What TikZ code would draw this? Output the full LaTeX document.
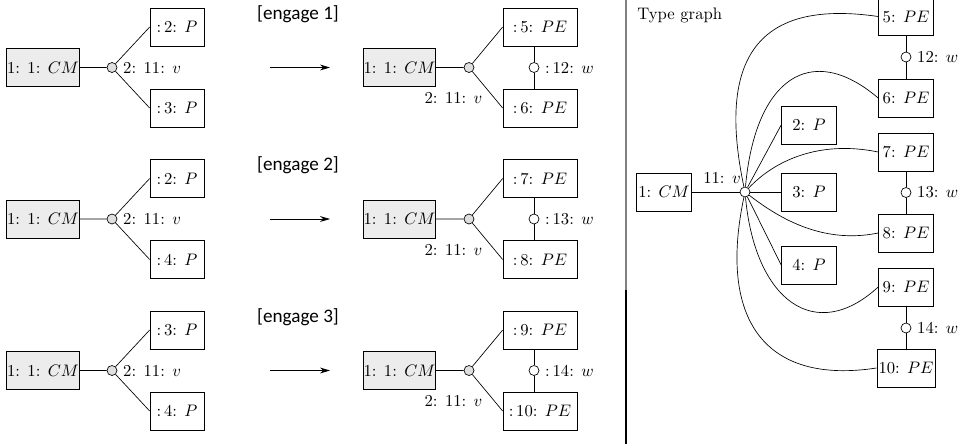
\documentclass[tikz,border=0pt]{standalone}
\usepackage{fontspec}
\newfontfamily\engfont{Carlito}
\usetikzlibrary{arrows.meta, positioning}

\tikzset{
  obj/.style={draw, minimum height=22.8pt, inner sep=1pt},
  cmbox/.style={obj, fill=gray!15, minimum width=39.6pt, inner sep=0.2pt},
  pbox/.style={obj, minimum width=32.4pt},
  pebox/.style={obj, minimum width=44.4pt},
  tbox/.style={obj, minimum width=33pt},
  linkdot/.style={circle, draw, fill=white, inner sep=0pt, minimum size=6pt},
  rulearrow/.style={-{Stealth[length=6pt, width=3.5pt]}},
  rulename/.style={font=\engfont\fontsize{11.5}{14}\selectfont},
}

\begin{document}
\begin{tikzpicture}[x=0.6pt, y=-0.6pt]
    \useasboundingbox (0,0) rectangle (961,444);
    % the three rule applications
    \foreach \r/\pa/\pb/\ea/\eb/\w in {0/2/3/5/6/12, 1/2/4/7/8/13, 2/3/4/9/10/14}{
        \begin{scope}[shift={(0,151.5*\r)}]
            \pgfmathtruncatemacro{\n}{\r+1}
            \node[cmbox] (cmL\r) at (43,67.5) {1: 1: $CM$};
            \node[linkdot, fill=gray!25] (vL\r) at (112,67.5) {};
            \node[pbox] (pA\r) at (177,27) {{:}\,\pa: $P$};
            \node[pbox] (pB\r) at (177,108) {{:}\,\pb: $P$};
            \draw (cmL\r) -- (vL\r) -- (pA\r.west);
            \draw (vL\r) -- (pB\r.west);
            \node[right=0pt of vL\r] (lL\r) {2: 11: $v$};
            \coordinate (aS\r) at (270,67.5);
            \coordinate (aE\r) at (330,67.5);
            \draw[rulearrow] (aS\r) -- (aE\r);
            \node[rulename] (rule\r) at (298,14) {[engage \n]};
            \node[cmbox] (cmR\r) at (399.5,67.5) {1: 1: $CM$};
            \node[linkdot, fill=gray!25] (vR\r) at (469,67.5) {};
            \node[pebox] (eA\r) at (540,27) {{:}\,\ea: $PE$};
            \node[pebox] (eB\r) at (540,108) {{:}\,\eb: $PE$};
            \node[linkdot] (wR\r) at (534,67.5) {};
            \draw (cmR\r) -- (vR\r) -- (eA\r.west);
            \draw (vR\r) -- (eB\r.west);
            \draw (wR\r) -- (wR\r |- eA\r.south);
            \draw (wR\r) -- (wR\r |- eB\r.north);
            \node[right=0pt of wR\r] (lw\r) {{:}\,\w: $w$};
            \node (lR\r) at ([shift={(-15.5,30.5)}]vR\r) {2: 11: $v$};
        \end{scope}
    }
    % separator
    \coordinate (sepTop) at (626,0);
    \coordinate (sepMid) at (626,290);
    \coordinate (sepBot) at (626,444);
    \draw[gray, line width=1pt] (sepTop) -- (sepMid);
    \draw[line width=1.2pt] (sepMid) -- (sepBot);
    % type graph
    \node[anchor=west, inner sep=0pt] (title) at (637,15) {Type graph};
    \node[tbox] (tCM) at (664,192) {1: $CM$};
    \node[linkdot] (tv) at (745,192) {};
    \node at ([shift={(-23,-14)}]tv) (tvl) {11: $v$};
    \node[tbox] (tP2) at (809,125) {2: $P$};
    \node[tbox] (tP3) at (809,192) {3: $P$};
    \node[tbox] (tP4) at (809,265) {4: $P$};
    \node[tbox] (tE5) at (906,16.5) {5: $PE$};
    \node[tbox] (tE6) at (906,98) {6: $PE$};
    \node[tbox] (tE7) at (906,152) {7: $PE$};
    \node[tbox] (tE8) at (906,233) {8: $PE$};
    \node[tbox] (tE9) at (906,287) {9: $PE$};
    \node[tbox] (tE10) at (906,368) {10: $PE$};
    \node[linkdot] (tw12) at (906,57) {};
    \node[linkdot] (tw13) at (906,192.5) {};
    \node[linkdot] (tw14) at (906,328) {};
    \node[right=0pt of tw12] {12: $w$};
    \node[right=0pt of tw13] {13: $w$};
    \node[right=0pt of tw14] {14: $w$};
    \draw (tE5) -- (tw12) -- (tE6);
    \draw (tE7) -- (tw13) -- (tE8);
    \draw (tE9) -- (tw14) -- (tE10);
    \draw (tCM) -- (tv);
    \draw (tv) -- (tP2.west);
    \draw (tv) -- (tP3.west);
    \draw (tv) -- (tP4.west);
    \draw (tv) .. controls (715,50) and (765,0) .. (tE5.west);
    \draw (tv) .. controls (755,80) and (810,40) .. (tE6.west);
    \draw (tv) .. controls (775,160) and (820,140) .. (tE7.west);
    \draw (tv) .. controls (775,215) and (820,245) .. (tE8.west);
    \draw (tv) .. controls (755,300) and (815,345) .. (tE9.west);
    \draw (tv) .. controls (718,320) and (765,385) .. (tE10.west);
\end{tikzpicture}
\end{document}
